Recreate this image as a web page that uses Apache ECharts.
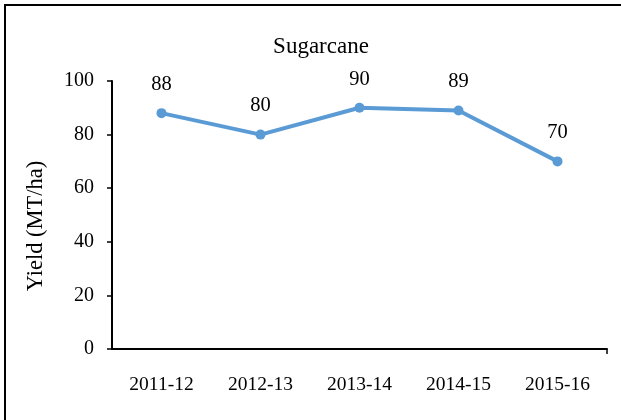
<!DOCTYPE html>
<html>
<head>
<meta charset="utf-8">
<script src="https://cdn.jsdelivr.net/npm/echarts@6/dist/echarts.min.js"></script>
<style>
  html, body { margin: 0; padding: 0; background: #fff; }
  #main { width: 621px; height: 420px; }
</style>
</head>
<body>
<div id="main"></div>
<script>
// data
const seasons = ['2011-12', '2012-13', '2013-14', '2014-15', '2015-16']
const yieldValues = [88, 80, 90, 89, 70]
const yTicks = [0, 20, 40, 60, 80, 100]

const serif = '"Liberation Serif", "DejaVu Serif", serif'

const chartDom = document.getElementById('main')
const myChart = echarts.init(chartDom, null, { renderer: 'canvas' })

const option = {
  backgroundColor: '#fff',
  animation: false,
  title: {
    text: 'Sugarcane',
    left: 316,
    top: 30,
    textAlign: 'center',
    textStyle: { fontFamily: serif, fontSize: 23, fontWeight: 'normal', color: '#000' }
  },
  // outer frame of the chart box
  graphic: [{
    type: 'rect',
    shape: { x: 5, y: 5, width: 700, height: 500 },
    style: { fill: 'none', stroke: '#000', lineWidth: 2 },
    silent: true
  }],
  grid: { left: 112, right: 14, top: 81, bottom: 71 },
  xAxis: [{
    type: 'category',
    data: seasons,
    boundaryGap: true,
    axisLine: { lineStyle: { color: '#000', width: 2 } },
    axisTick: { alignWithLabel: true, length: 5, lineStyle: { color: '#777', width: 1 } },
    axisLabel: { margin: 26, fontFamily: serif, fontSize: 19.5, color: '#000' }
  }, {
    // just for the closing tick at the right end of the axis
    type: 'value',
    position: 'bottom',
    min: 0,
    max: 1,
    interval: 1,
    axisLine: { show: false },
    splitLine: { show: false },
    axisTick: { show: true, length: 5, customValues: [1], lineStyle: { color: '#000', width: 1.5 } },
    axisLabel: { show: false }
  }],
  yAxis: {
    type: 'value',
    min: yTicks[0],
    max: yTicks[yTicks.length - 1],
    interval: 20,
    name: 'Yield (MT/ha)',
    nameLocation: 'middle',
    nameGap: 64,
    nameTextStyle: { fontFamily: serif, fontSize: 22.5, color: '#000', padding: [0, 22, 0, 0] },
    axisLine: { show: true, lineStyle: { color: '#000', width: 2 } },
    axisTick: { show: true, length: 5, lineStyle: { color: '#000', width: 1.5 } },
    axisLabel: { margin: 18, fontFamily: serif, fontSize: 20, color: '#000' },
    splitLine: { show: false }
  },
  series: [{
    type: 'line',
    data: yieldValues,
    xAxisIndex: 0,
    symbol: 'circle',
    symbolSize: 10,
    itemStyle: { color: '#5B9BD5' },
    lineStyle: { color: '#5B9BD5', width: 4 },
    label: {
      show: true,
      position: 'top',
      distance: 13,
      fontFamily: serif,
      fontSize: 20.5,
      color: '#000'
    }
  }]
}

option && myChart.setOption(option)
</script>
</body>
</html>
